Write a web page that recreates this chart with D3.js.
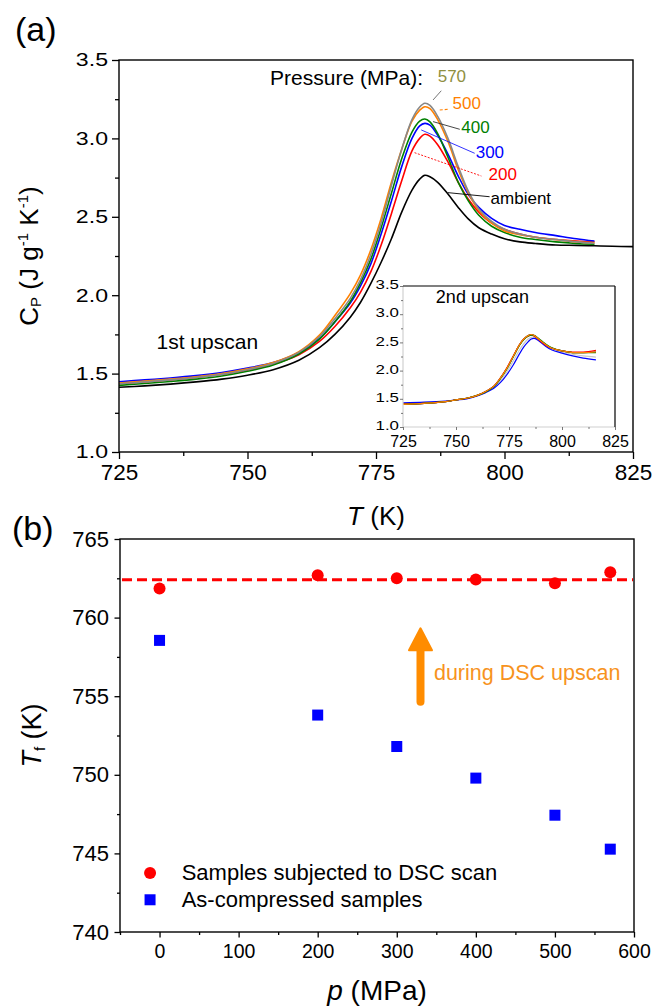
<!DOCTYPE html>
<html><head><meta charset="utf-8">
<script src="https://cdn.jsdelivr.net/npm/d3@7"></script>
<style>
body{margin:0;background:#fff}
svg{display:block}
text{font-family:"Liberation Sans",Arial,Helvetica,sans-serif;fill:#000}
</style>
</head><body>
<svg id="c" width="654" height="1006"></svg>
<script>
// ---------- Panel (a): 1st upscan Cp curves ----------
const tFirst = [725,730,735,740,745,750,755,760,764,767,770,772,774,776,778,780,782,783.5,784.5,785.5,787,789,791,793,795,797.5,800,803,806,810,814,817.5];
const tAmbient = tFirst.concat([821,825]);
const cpAmbient = [1.413,1.422,1.433,1.447,1.465,1.49,1.525,1.585,1.665,1.75,1.86,1.955,2.075,2.21,2.36,2.53,2.67,2.74,2.765,2.755,2.72,2.645,2.56,2.485,2.43,2.39,2.36,2.34,2.33,2.32,2.318,2.315,2.312,2.31];
const cp200 = [1.435,1.447,1.46,1.475,1.495,1.522,1.56,1.62,1.705,1.8,1.92,2.02,2.15,2.32,2.52,2.73,2.92,3.0,3.026,3.015,2.96,2.85,2.72,2.61,2.53,2.46,2.42,2.39,2.37,2.355,2.345,2.34];
const cp300 = [1.448,1.46,1.472,1.487,1.507,1.535,1.57,1.635,1.725,1.83,1.95,2.06,2.2,2.39,2.6,2.82,3.0,3.08,3.096,3.085,3.02,2.9,2.76,2.64,2.56,2.49,2.445,2.42,2.4,2.38,2.36,2.345];
const cp400 = [1.425,1.437,1.45,1.465,1.485,1.515,1.555,1.625,1.72,1.83,1.96,2.08,2.23,2.43,2.65,2.87,3.04,3.11,3.124,3.105,3.03,2.88,2.72,2.6,2.51,2.44,2.4,2.37,2.355,2.34,2.33,2.325];
const cp500 = [1.44,1.452,1.465,1.48,1.5,1.53,1.57,1.64,1.745,1.87,2.01,2.13,2.29,2.49,2.72,2.93,3.11,3.18,3.202,3.19,3.12,2.98,2.8,2.65,2.54,2.46,2.41,2.385,2.37,2.355,2.34,2.335];
const cp570 = [1.435,1.447,1.46,1.475,1.495,1.525,1.565,1.635,1.735,1.85,1.98,2.1,2.26,2.46,2.7,2.93,3.12,3.2,3.224,3.21,3.14,3.0,2.82,2.66,2.55,2.47,2.42,2.39,2.37,2.355,2.34,2.33];

const pressureLabels = ["ambient","200","300","400","500","570"];
// label anchors (T, Cp) and leader lines [T1,Cp1,T2,Cp2]
const labelT  = [797.3,796.9,794.4,791.6,789.9,787.0];
const labelCp = [2.582,2.735,2.873,3.033,3.186,3.358];
const leaderLines = [[789.0,2.654,797.1,2.628],[782.5,2.909,795.5,2.76],[783.8,3.054,794.2,2.905],[786.1,3.107,791.3,3.058],[787.4,3.181,789.3,3.187],[786.1,3.245,787.7,3.304]];

const xTicksA = [725,750,775,800,825];
const yTicksA = [1.0,1.5,2.0,2.5,3.0,3.5];

// ---------- Inset: 2nd upscan ----------
const tSecond = [725,735,745,750,755,760,764,768,771,774,777,780,782,784,785.5,787,789,792,795,800,805,810,816];
const cp2Common = [1.40,1.42,1.45,1.48,1.51,1.56,1.63,1.73,1.87,2.04,2.25,2.46,2.56,2.62,2.64,2.62,2.56,2.47,2.40,2.35,2.32,2.32,2.33];
const cp2Red    = [1.41,1.42,1.45,1.48,1.51,1.56,1.63,1.73,1.87,2.05,2.26,2.46,2.56,2.61,2.63,2.61,2.55,2.46,2.40,2.35,2.33,2.33,2.36];
const cp2Green  = [1.40,1.42,1.45,1.48,1.51,1.56,1.62,1.72,1.86,2.03,2.24,2.45,2.55,2.61,2.63,2.62,2.57,2.48,2.41,2.35,2.32,2.32,2.32];
const cp2Blue   = [1.43,1.44,1.46,1.48,1.50,1.55,1.61,1.69,1.79,1.93,2.10,2.30,2.42,2.51,2.56,2.57,2.53,2.44,2.37,2.31,2.26,2.22,2.19];
const cp2Gray   = [1.41,1.42,1.45,1.48,1.51,1.55,1.62,1.71,1.83,1.98,2.17,2.37,2.48,2.56,2.59,2.59,2.55,2.46,2.39,2.33,2.29,2.26,2.24];
const xTicksIn = [725,750,775,800,825];
const yTicksIn = [1.0,1.5,2.0,2.5,3.0,3.5];

// ---------- Panel (b): Tf vs p ----------
const pressures = [0,200,300,400,500,570];
const tfDSC = [761.85,762.7,762.5,762.43,762.18,762.88];
const tfCompressed = [758.55,753.8,751.8,749.79,747.43,745.27];
const tfMeanDSC = 762.4;
const xTicksB = [0,100,200,300,400,500,600];
const yTicksB = [740,745,750,755,760,765];
const legendLabels = ["Samples subjected to DSC scan","As-compressed samples"];

const colors = {ambient:"#000000","200":"#ff0000","300":"#0000ff","400":"#008000","500":"#ff8000","570":"#888888"};
const labelColors = {ambient:"#000000","200":"#ff0000","300":"#0000ff","400":"#008000","500":"#ff8000","570":"#8f8f3f"};

const svg = d3.select("#c");

// ================= Panel (a) =================
const xA = d3.scaleLinear().domain([725,825]).range([119,633]);
const yA = d3.scaleLinear().domain([1,3.5]).range([452,60]);

function drawAxes(xs, ys, xt, yt, xMinor, yMinor, o) {
  const y0 = ys.range()[0], x0 = xs.range()[0];
  const gxm = svg.append("g").attr("transform",`translate(0,${y0})`)
    .call(d3.axisBottom(xs).tickValues(xMinor).tickSize(o.xMinLen).tickSizeOuter(0).tickFormat(""));
  gxm.select(".domain").remove();
  gxm.selectAll("line").attr("stroke",o.tickColor).attr("stroke-width",o.tw);
  const gym = svg.append("g").attr("transform",`translate(${x0},0)`)
    .call(d3.axisLeft(ys).tickValues(yMinor).tickSize(o.yMinLen).tickSizeOuter(0).tickFormat(""));
  gym.select(".domain").remove();
  gym.selectAll("line").attr("stroke",o.tickColor).attr("stroke-width",o.tw);
  const gx = svg.append("g").attr("transform",`translate(0,${y0})`)
    .call(d3.axisBottom(xs).tickValues(xt).tickSize(o.xMajLen).tickSizeOuter(0).tickPadding(o.xPad).tickFormat(o.xFmt));
  gx.select(".domain").remove();
  gx.selectAll("line").attr("stroke",o.tickColor).attr("stroke-width",o.tw);
  gx.selectAll("text").style("font-size",o.xFs+"px").attr("fill",o.textColor);
  const gy = svg.append("g").attr("transform",`translate(${x0},0)`)
    .call(d3.axisLeft(ys).tickValues(yt).tickSize(o.yMajLen).tickSizeOuter(0).tickFormat(o.yFmt));
  gy.select(".domain").remove();
  gy.selectAll("line").attr("stroke",o.tickColor).attr("stroke-width",o.tw);
  gy.selectAll("text").style("font-size",o.yFs+"px").attr("fill",o.textColor)
    .attr("dy", o.yDy || "0.32em")
    .attr("x", -o.yGap/o.ySx).attr("transform",`scale(${o.ySx},1)`);
}

// curves
const lineA = (ts) => d3.line().x((d,i)=>xA(ts[i])).y(d=>yA(d)).curve(d3.curveCatmullRom.alpha(0.5));
const seriesA = [
  {key:"ambient", t:tAmbient, v:cpAmbient},
  {key:"200", t:tFirst, v:cp200},
  {key:"300", t:tFirst, v:cp300},
  {key:"400", t:tFirst, v:cp400},
  {key:"500", t:tFirst, v:cp500},
  {key:"570", t:tFirst, v:cp570}
];
seriesA.forEach(s=>{
  svg.append("path").attr("d", lineA(s.t)(s.v)).attr("fill","none")
    .attr("stroke", colors[s.key]).attr("stroke-width",1.6);
});

drawAxes(xA, yA, xTicksA, yTicksA, d3.range(737.5,825,25), d3.range(1.25,3.5,0.5), {
  xMinLen:4, yMinLen:4, xMajLen:7, yMajLen:7, xPad:5, tickColor:"#000", tw:1.3,
  xFmt:d3.format("d"), yFmt:d3.format(".1f"), xFs:22.5, yFs:18.5, ySx:1.25, yGap:11, textColor:"#000"
});
svg.append("rect").attr("x",xA.range()[0]).attr("y",yA.range()[1])
  .attr("width",xA.range()[1]-xA.range()[0]).attr("height",yA.range()[0]-yA.range()[1])
  .attr("fill","none").attr("stroke","#000").attr("stroke-width",1.4);

// leader lines & labels
const leaderStyle = [
  {c:"#000", w:0.9, d:null},
  {c:"#ff0000", w:0.9, d:"2,1.5"},
  {c:"#0000ff", w:0.8, d:null},
  {c:"#333", w:0.9, d:null},
  {c:"#ff8000", w:1.2, d:"3,2"},
  {c:"#666", w:0.9, d:null}
];
leaderLines.forEach((l,i)=>{
  svg.append("line").attr("x1",xA(l[0])).attr("y1",yA(l[1])).attr("x2",xA(l[2])).attr("y2",yA(l[3]))
    .attr("stroke",leaderStyle[i].c).attr("stroke-width",leaderStyle[i].w)
    .attr("stroke-dasharray",leaderStyle[i].d);
});
pressureLabels.forEach((lab,i)=>{
  svg.append("text").attr("x",xA(labelT[i])).attr("y",yA(labelCp[i]))
    .style("font-size","17px").style("fill",labelColors[lab]).text(lab);
});
svg.append("text").attr("x",xA(754.4)).attr("y",yA(3.34)).style("font-size","21px").text("Pressure (MPa):");
svg.append("text").attr("x",xA(732.3)).attr("y",yA(1.657)).style("font-size","21px").text("1st upscan");

// axis titles (a)
svg.append("text").attr("x",15).attr("y",41).style("font-size","34px").text("(a)");
const tx = svg.append("text").attr("x",(xA.range()[0]+xA.range()[1])/2).attr("y",525)
  .attr("text-anchor","middle").style("font-size","26px");
tx.append("tspan").style("font-style","italic").text("T");
tx.append("tspan").text(" (K)");
const ty = svg.append("text").attr("transform",`translate(38,${(yA.range()[0]+yA.range()[1])/2}) rotate(-90)`)
  .attr("text-anchor","middle").style("font-size","26px");
ty.append("tspan").text("C");
ty.append("tspan").attr("dy","3").style("font-size","15px").text("P");
ty.append("tspan").attr("dy","-3").text(" (J g");
ty.append("tspan").attr("dy","-10").style("font-size","15px").text("-1");
ty.append("tspan").attr("dy","10").text(" K");
ty.append("tspan").attr("dy","-10").style("font-size","15px").text("-1");
ty.append("tspan").attr("dy","10").text(")");

// ================= Inset =================
const xI = d3.scaleLinear().domain([725,825]).range([403,615]);
const yI = d3.scaleLinear().domain([1,3.5]).range([427,286]);
svg.append("rect").attr("x",xI.range()[0]).attr("y",yI.range()[1])
  .attr("width",xI.range()[1]-xI.range()[0]).attr("height",yI.range()[0]-yI.range()[1]).attr("fill","#fff");
const lineI = d3.line().x((d,i)=>xI(tSecond[i])).y(d=>yI(d)).curve(d3.curveCatmullRom.alpha(0.5));
[{v:cp2Gray,c:"#c8c8c8"},{v:cp2Blue,c:"#0000ff"},{v:cp2Common,c:"#000"},{v:cp2Red,c:"#ff0000"},{v:cp2Green,c:"#008000"},{v:cp2Common,c:"#ff8000"}]
  .forEach(s=>svg.append("path").attr("d",lineI(s.v)).attr("fill","none").attr("stroke",s.c).attr("stroke-width",1.2));
svg.append("line").attr("x1",xI.range()[0]).attr("x2",xI.range()[0]).attr("y1",yI.range()[0]).attr("y2",yI.range()[1]).attr("stroke","#d0d0d0").attr("stroke-width",1.2);
svg.append("line").attr("x1",xI.range()[0]).attr("x2",xI.range()[1]).attr("y1",yI.range()[0]).attr("y2",yI.range()[0]).attr("stroke","#d0d0d0").attr("stroke-width",1.2);
svg.append("line").attr("x1",xI.range()[0]).attr("x2",xI.range()[1]).attr("y1",yI.range()[1]).attr("y2",yI.range()[1]).attr("stroke","#000").attr("stroke-width",1.2);
svg.append("line").attr("x1",xI.range()[1]).attr("x2",xI.range()[1]).attr("y1",yI.range()[0]).attr("y2",yI.range()[1]).attr("stroke","#000").attr("stroke-width",1.2);
drawAxes(xI, yI, xTicksIn, yTicksIn, d3.range(737.5,825,25), d3.range(1.25,3.5,0.5), {
  xMinLen:2, yMinLen:2, xMajLen:3, yMajLen:3, xPad:6, tickColor:"#555", tw:0.8,
  xFmt:d3.format("d"), yFmt:d3.format(".1f"), xFs:16, yFs:12.5, ySx:1.35, yGap:4, yDy:"0.22em", textColor:"#000"
});
svg.append("text").attr("x",xI(740.5)).attr("y",yI(3.2)).style("font-size","18px").text("2nd upscan");

// ================= Panel (b) =================
const xB = d3.scaleLinear().domain([-50,600]).range([120,634]);
const yB = d3.scaleLinear().domain([740,765]).range([932,539]);

drawAxes(xB, yB, xTicksB, yTicksB, d3.range(-50,600,100), d3.range(742.5,765,5), {
  xMinLen:3, yMinLen:3, xMajLen:5.5, yMajLen:5.5, xPad:7, tickColor:"#000", tw:1.3,
  xFmt:d3.format("d"), yFmt:d3.format("d"), xFs:19.5, yFs:22, ySx:1, yGap:11, textColor:"#000"
});
svg.append("rect").attr("x",xB.range()[0]).attr("y",yB.range()[1])
  .attr("width",xB.range()[1]-xB.range()[0]).attr("height",yB.range()[0]-yB.range()[1])
  .attr("fill","none").attr("stroke","#000").attr("stroke-width",1.4);

svg.append("line").attr("x1",xB.range()[0]+2).attr("x2",xB.range()[1]-1)
  .attr("y1",yB(tfMeanDSC)).attr("y2",yB(tfMeanDSC))
  .attr("stroke","#ff0000").attr("stroke-width",3).attr("stroke-dasharray","10,5");
svg.selectAll("circle.dsc").data(pressures).enter().append("circle")
  .attr("cx",d=>xB(d)).attr("cy",(d,i)=>yB(tfDSC[i])).attr("r",6).attr("fill","#ff0000");
svg.selectAll("rect.cmp").data(pressures).enter().append("rect")
  .attr("x",d=>xB(d)-5.5).attr("y",(d,i)=>yB(tfCompressed[i])-5.5).attr("width",11).attr("height",11).attr("fill","#0000ff");

// arrow
const ax = xB(330), ay1 = yB(754.65), ay2 = yB(759.32);
svg.append("line").attr("x1",ax).attr("x2",ax).attr("y1",ay1).attr("y2",ay2+18)
  .attr("stroke","#ff8c00").attr("stroke-width",8).attr("stroke-linecap","round");
svg.append("path").attr("d",`M${ax},${ay2} L${ax+11.5},${ay2+22} L${ax-11.5},${ay2+22} Z`)
  .attr("fill","#ff8c00").attr("stroke","#ff8c00").attr("stroke-width",2).attr("stroke-linejoin","round");
svg.append("text").attr("x",xB(347)).attr("y",yB(756.03)).style("font-size","21.5px").style("fill","#f7931e").text("during DSC upscan");

// legend
svg.append("circle").attr("cx",xB(-12)).attr("cy",yB(743.75)).attr("r",6).attr("fill","#ff0000");
svg.append("rect").attr("x",xB(-12)-5.5).attr("y",yB(742.05)-5.5).attr("width",11).attr("height",11).attr("fill","#0000ff");
svg.append("text").attr("x",xB(28)).attr("y",yB(743.75)+7).style("font-size","22px").text(legendLabels[0]);
svg.append("text").attr("x",xB(28)).attr("y",yB(742.05)+7).style("font-size","22px").text(legendLabels[1]);

// titles (b)
svg.append("text").attr("x",12).attr("y",540).style("font-size","34px").text("(b)");
const pxl = svg.append("text").attr("x",(xB.range()[0]+xB.range()[1])/2).attr("y",1000)
  .attr("text-anchor","middle").style("font-size","28px");
pxl.append("tspan").style("font-style","italic").text("p");
pxl.append("tspan").text(" (MPa)");
const pyl = svg.append("text").attr("transform",`translate(41,${(yB.range()[0]+yB.range()[1])/2}) rotate(-90)`)
  .attr("text-anchor","middle").style("font-size","27px");
pyl.append("tspan").style("font-style","italic").text("T");
pyl.append("tspan").attr("dy","4").style("font-size","15px").text("f");
pyl.append("tspan").attr("dy","-4").text(" (K)");
</script>
</body></html>
